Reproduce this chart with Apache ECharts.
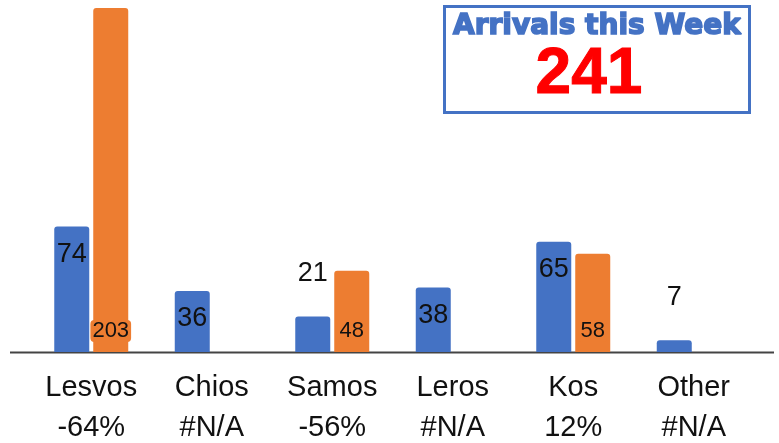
<!DOCTYPE html>
<html>
<head>
<meta charset="utf-8">
<script src="https://cdn.jsdelivr.net/npm/echarts@6/dist/echarts.min.js"></script>
<style>
  html, body { margin: 0; padding: 0; background: #fff; }
  #main { width: 779px; height: 443px; }
</style>
</head>
<body>
<div id="main"></div>
<script>
// data
var islands = ['Lesvos', 'Chios', 'Samos', 'Leros', 'Kos', 'Other'];
var changes = ['-64%', '#N/A', '-56%', '#N/A', '12%', '#N/A'];
var thisWeek = [74, 36, 21, 38, 65, 7];
var lastWeek = [203, null, 48, null, 58, null];
var weekTotal = 241;

var myChart = echarts.init(document.getElementById('main'));

// short bars get their label above the bar
var blueData = thisWeek.map(function (v) {
    if (v < 30) {
        return { value: v, label: { position: 'top', distance: 29 } };
    }
    return v;
});

var option = {
    animation: false,
    grid: { left: 31, right: 25, top: 8, bottom: 91, outerBoundsMode: 'none', containLabel: false },
    xAxis: {
        type: 'category',
        data: islands,
        axisLine: { show: false },
        axisTick: { show: false },
        axisLabel: {
            interval: 0,
            margin: 16,
            fontFamily: 'Liberation Sans',
            fontSize: 29,
            lineHeight: 40,
            color: '#111',
            formatter: function (val, idx) {
                return val + '\n' + changes[idx];
            }
        }
    },
    yAxis: { type: 'value', min: 0, max: 203, show: false, splitLine: { show: false } },
    series: [{
        name: 'this week',
        type: 'bar',
        data: blueData,
        barWidth: 35,
        barGap: '11.4%',
        itemStyle: { color: '#4472C4', borderRadius: [3, 3, 0, 0] },
        label: {
            show: true,
            position: 'insideTop',
            distance: 14,
            fontFamily: 'Liberation Sans',
            fontSize: 27,
            color: '#111'
        }
    }, {
        name: 'last week',
        type: 'bar',
        data: lastWeek,
        barWidth: 35,
        itemStyle: { color: '#ED7D31', borderRadius: [3, 3, 0, 0] },
        label: {
            show: true,
            position: 'insideBottom',
            distance: 10,
            fontFamily: 'Liberation Sans',
            fontSize: 22,
            color: '#111',
            backgroundColor: '#ED7D31',
            borderRadius: 4,
            padding: [0, 2]
        }
    }],
    graphic: [{
        type: 'line',
        shape: { x1: 10, y1: 352.5, x2: 774, y2: 352.5 },
        style: { stroke: '#444', lineWidth: 2 }
    }, {
        type: 'rect',
        shape: { x: 444.5, y: 6.5, width: 305, height: 106 },
        style: { fill: '#fff', stroke: '#4472C4', lineWidth: 3 }
    }, {
        type: 'text',
        x: 597, y: 27,
        style: {
            text: 'Arrivals this Week',
            fill: '#4472C4',
            stroke: '#4472C4',
            lineWidth: 1.6,
            font: 'bold 28px "DejaVu Sans"',
            textAlign: 'center',
            textVerticalAlign: 'middle'
        }
    }, {
        type: 'text',
        x: 589, y: 75,
        style: {
            text: String(weekTotal),
            fill: '#FF0000',
            stroke: '#FF0000',
            lineWidth: 1,
            font: 'bold 64px "Liberation Sans"',
            textAlign: 'center',
            textVerticalAlign: 'middle'
        }
    }]
};

myChart.setOption(option);
</script>
</body>
</html>
